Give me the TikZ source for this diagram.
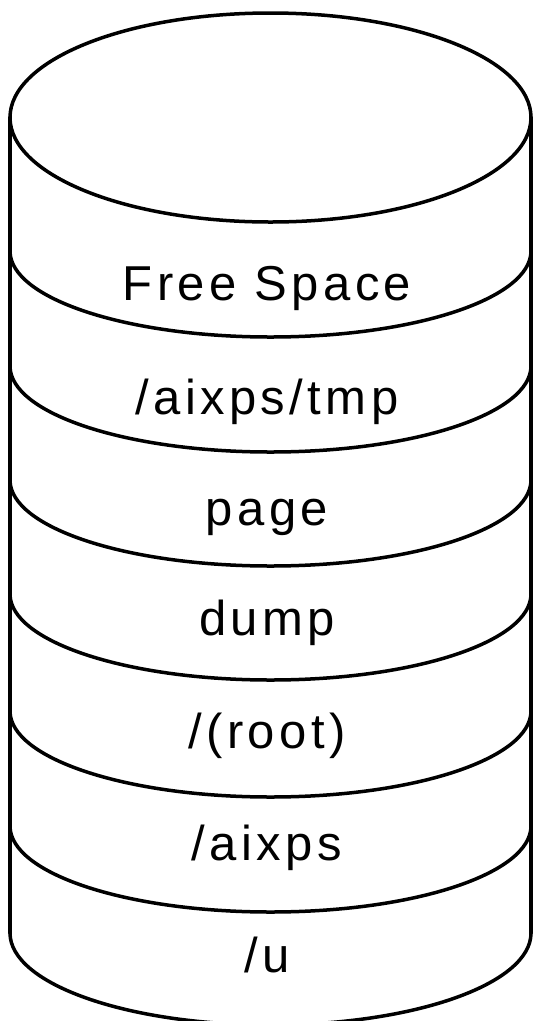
\documentclass[tikz,border=0pt]{standalone}
\usepackage{fontspec}
\setmainfont{Liberation Sans}[LetterSpace=9]
\begin{document}
\begin{tikzpicture}[x=1pt,y=1pt]
  \tikzset{
    rim/.style={line width=3.5pt, line join=round, line cap=round},
    bandlabel/.style={font=\fontsize{49}{49}\selectfont, anchor=base, inner sep=0pt}
  }
  \useasboundingbox (0,0) rectangle (534,-1021);
  % top face of the disk stack
  \draw[rim] (270.5,-117.5) ellipse [x radius=260.5, y radius=104.5];
  % sides
  \draw[rim] (10,-117.5) -- (10,-933);
  \draw[rim] (531,-117.5) -- (531,-933);
  % partition boundaries (front halves of ellipses)
  \foreach \yc in {337,452,566,680,797,912}
    \draw[rim] (10,{-\yc+86}) arc[start angle=180, end angle=360, x radius=260.5, y radius=86];
  % bottom rim
  \draw[rim] (10,-933) arc[start angle=180, end angle=360, x radius=260.5, y radius=92];
  % partition labels
  \node[bandlabel] (lfree)  at (267,-300) {Free Space};
  \node[bandlabel] (ltmp)   at (267,-414) {/aixps/tmp};
  \node[bandlabel] (lpage)  at (267,-525) {page};
  \node[bandlabel] (ldump)  at (267,-635) {dump};
  \node[bandlabel] (lroot)  at (267,-748) {/(root)};
  \node[bandlabel] (laixps) at (267,-860) {/aixps};
  \node[bandlabel] (lu)     at (267,-972) {/u};
\end{tikzpicture}
\end{document}
